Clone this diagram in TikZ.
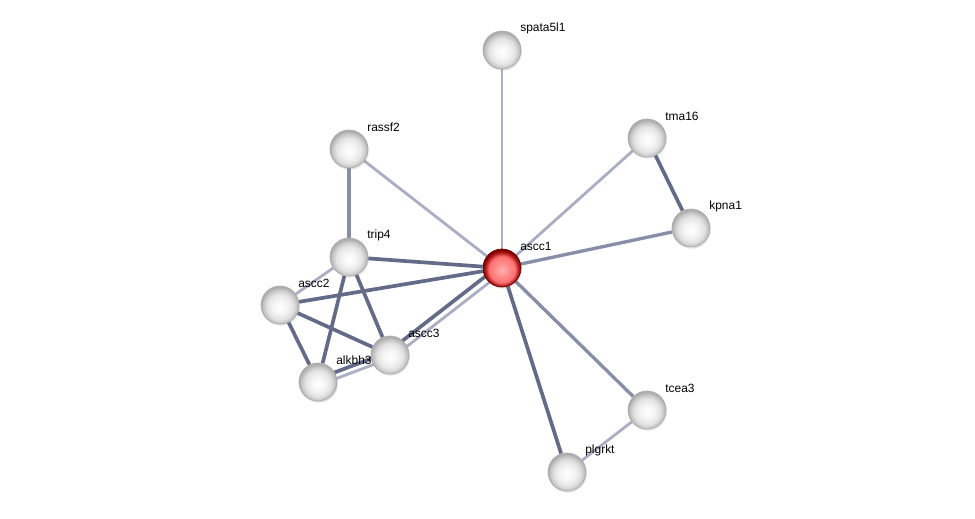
\documentclass[tikz,border=0pt]{standalone}
\usepackage{fontspec}
\setmainfont{Liberation Sans}
\usetikzlibrary{backgrounds,shadows}

\definecolor{edgedark}{RGB}{100,107,136}
\definecolor{edgemid}{RGB}{136,142,166}
\definecolor{edgelight}{RGB}{170,174,194}

% 球の陰影
\pgfdeclareradialshading{greyball}{\pgfpoint{0bp}{-3bp}}{%
    color(0bp)=(white); color(9bp)=(gray!8); color(17bp)=(gray!22);
    color(22bp)=(gray!45); color(25bp)=(gray!65); color(50bp)=(gray!65)}
\pgfdeclareradialshading{redball}{\pgfpoint{0bp}{-3bp}}{%
    color(0bp)=(red!30!white); color(9bp)=(red!45!white); color(17bp)=(red!55!white);
    color(22bp)=(red!65!black!90); color(25bp)=(red!50!black); color(50bp)=(red!50!black)}

\tikzset{
    protein/.style={circle, minimum size=38*0.02cm, inner sep=0pt, shading=greyball,
        draw=gray!65, line width=0.4pt,
        drop shadow={opacity=0.2, shadow xshift=0.5pt, shadow yshift=-1pt}},
    query/.style={protein, shading=redball, draw=red!40!black},
    lbl/.style={anchor=west, inner sep=0pt, font=\fontsize{6.8}{8}\selectfont},
    edark/.style={edgedark, line width=2.1pt},
    emid/.style={edgemid, line width=1.9pt},
    elight/.style={edgelight, line width=1.6pt}
}

\begin{document}
\begin{tikzpicture}[x=0.02cm, y=-0.02cm, line cap=round]
    \useasboundingbox (0,0) rectangle (975,518);

    % タンパク質ノード
    \node[protein] (spata5l1) at (502,50) {};
    \node[protein] (rassf2) at (349,149) {};
    \node[protein] (tma16) at (647,138) {};
    \node[protein] (kpna1) at (691,228) {};
    \node[protein] (trip4) at (349,257) {};
    \node[query] (ascc1) at (502,268) {};
    \node[protein] (ascc2) at (280,305) {};
    \node[protein] (ascc3) at (390,355) {};
    \node[protein] (alkbh3) at (318,382) {};
    \node[protein] (tcea3) at (647,410) {};
    \node[protein] (plgrkt) at (567,472) {};

    % ラベル
    \foreach \p in {spata5l1,rassf2,tma16,kpna1,trip4,ascc1,ascc2,ascc3,alkbh3,tcea3,plgrkt}
        \node[lbl] (\p-l) at ([shift={(18,-22)}]\p.center) {\p};

    % エッジ（ノードの背後）
    \begin{scope}[on background layer]
        \draw[elight] (ascc1) -- (spata5l1);
        \draw[elight] (ascc1) -- (rassf2);
        \draw[elight] (ascc1) -- (tma16);
        \draw[emid] (ascc1) -- (kpna1);
        \draw[emid] (ascc1) -- (tcea3);
        \draw[edark] (ascc1) -- (plgrkt);
        \draw[edark] (ascc1) -- (trip4);
        \draw[edark] (ascc1) -- (ascc2);
        \draw[elight] ([shift={(2,3)}]ascc1.center) -- ([shift={(2,3)}]ascc3.center);
        \draw[edark] ([shift={(-2,-3)}]ascc1.center) -- ([shift={(-2,-3)}]ascc3.center);
        \draw[emid] (rassf2) -- (trip4);
        \draw[edark] (tma16) -- (kpna1);
        \draw[elight] (trip4) -- (ascc2);
        \draw[edark] (trip4) -- (ascc3);
        \draw[edark] (trip4) -- (alkbh3);
        \draw[edark] (ascc2) -- (ascc3);
        \draw[edark] (ascc2) -- (alkbh3);
        \draw[edark] ([shift={(-1,-3)}]alkbh3.center) -- ([shift={(-1,-3)}]ascc3.center);
        \draw[elight] ([shift={(1,3)}]alkbh3.center) -- ([shift={(1,3)}]ascc3.center);
        \draw[elight] (tcea3) -- (plgrkt);
    \end{scope}
\end{tikzpicture}
\end{document}
